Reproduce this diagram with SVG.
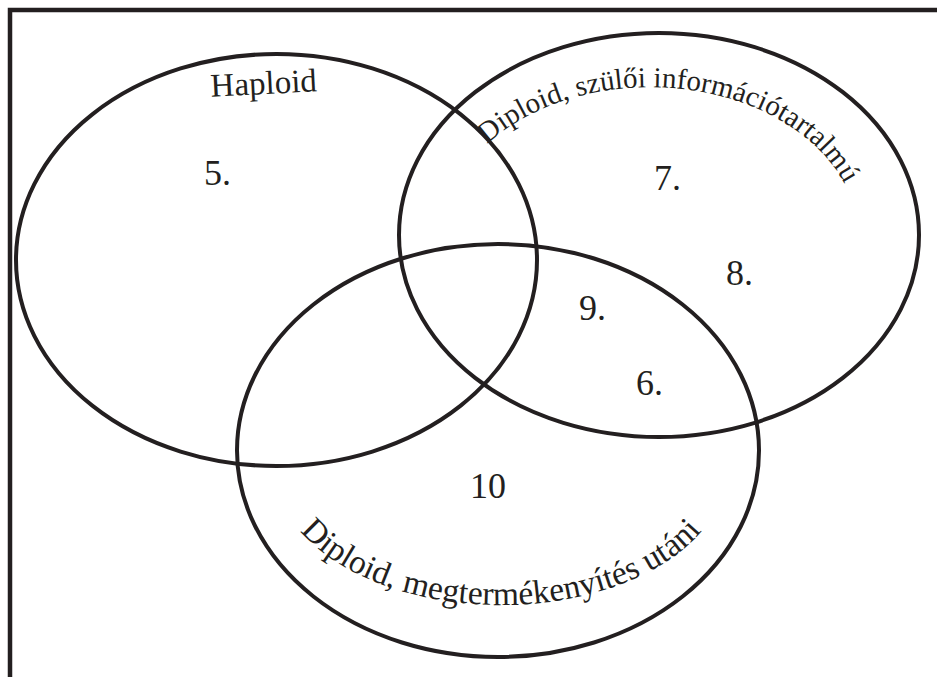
<svg xmlns="http://www.w3.org/2000/svg" width="937" height="677" viewBox="0 0 937 677">
<style>
.frame{fill:none;stroke:#231f20;stroke-width:4.5}
.set{fill:none;stroke:#231f20;stroke-width:4}
.lbl{font-family:"Liberation Serif","Times New Roman",serif;fill:#231f20}
.num{font-family:"Liberation Serif","Times New Roman",serif;font-size:36px;fill:#231f20}
</style>
<defs>
<path id="arcTop" d="M 487 144 A 208 150 0 0 1 845 185"/>
<path id="arcBottom" d="M 300 530.7 A 225 135 0 0 0 702 530.7"/>
</defs>
<rect width="937" height="677" fill="#ffffff"/>
<path class="frame" d="M 10 677 V 10 H 937"/>
<g id="haploid">
<ellipse class="set" cx="276.5" cy="260" rx="260.5" ry="206"/>
<text class="lbl" font-size="33" transform="rotate(-3 264 90)" x="264" y="94" text-anchor="middle">Haploid</text>
</g>
<g id="diploid-szuloi">
<ellipse class="set" cx="659" cy="235" rx="260" ry="202"/>
<text class="lbl" font-size="29"><textPath href="#arcTop">Diploid, szülői információtartalmú</textPath></text>
</g>
<g id="diploid-megtermekenyites">
<ellipse class="set" cx="498" cy="450.5" rx="261" ry="206.5"/>
<text class="lbl" font-size="33.5" text-anchor="middle"><textPath href="#arcBottom" startOffset="50%">Diploid, megtermékenyítés utáni</textPath></text>
</g>
<g id="numbers">
<text class="num" x="204" y="185">5.</text>
<text class="num" x="654" y="190">7.</text>
<text class="num" x="726" y="285">8.</text>
<text class="num" x="579" y="320">9.</text>
<text class="num" x="636" y="395">6.</text>
<text class="num" x="470" y="498">10</text>
</g>
</svg>
